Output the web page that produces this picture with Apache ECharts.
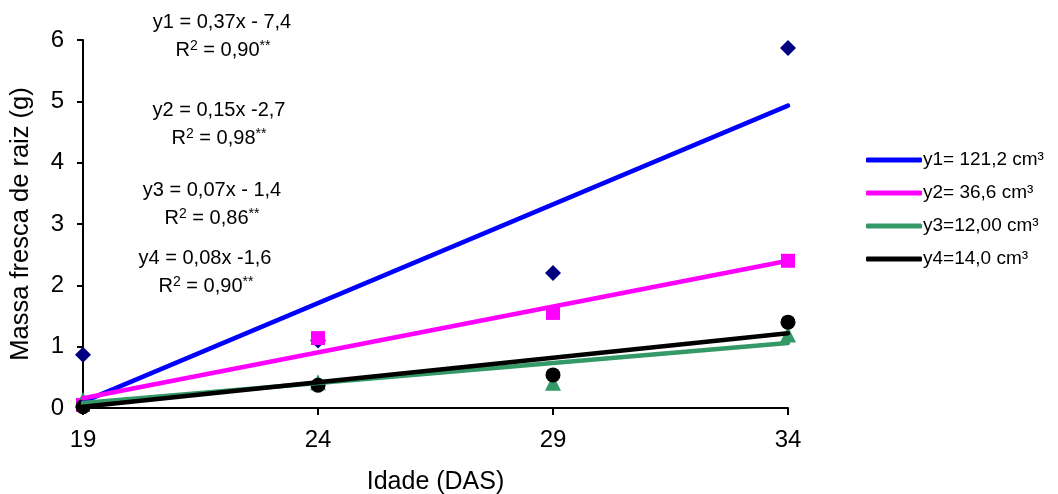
<!DOCTYPE html>
<html>
<head>
<meta charset="utf-8">
<title>Massa fresca de raiz</title>
<script src="https://cdn.jsdelivr.net/npm/echarts@6/dist/echarts.min.js"></script>
<style>
  html, body { margin: 0; padding: 0; background: #fff; }
  #chart { width: 1058px; height: 494px; }
</style>
</head>
<body>
<div id="chart"></div>
<script>
// Sampling ages (days after sowing)
const days = [19, 24, 29, 34];

// Root fresh mass (g) per container volume
const massY1 = [0.87, 1.10, 2.20, 5.87];
const massY2 = [0.05, 1.14, 1.55, 2.40];
const massY3 = [0.13, 0.42, 0.41, 1.20];
const massY4 = [0.02, 0.37, 0.54, 1.40];

// Fitted linear trend, value at first and last age
const trendDays = [19, 34];
const trendY1 = [0.10, 4.93];
const trendY2 = [0.16, 2.40];
const trendY3 = [0.08, 1.06];
const trendY4 = [0.02, 1.22];

const seriesLabels = ['y1= 121,2 cm³', 'y2= 36,6 cm³', 'y3=12,00 cm³', 'y4=14,0 cm³'];
const equations = ['y1 = 0,37x - 7,4', 'y2 = 0,15x -2,7', 'y3 = 0,07x - 1,4', 'y4 = 0,08x -1,6'];
const r2Values = ['0,90', '0,98', '0,86', '0,90'];

const yTicks = [0, 1, 2, 3, 4, 5, 6];

const lineColors = ['#0000FF', '#FF00FF', '#339966', '#000000'];
const markerColors = ['#000080', '#FF00FF', '#339966', '#000000'];
const markerShapes = ['diamond', 'rect', 'triangle', 'circle'];
const markerSizes = [16, 14, 16, 15];

const masses = [massY1, massY2, massY3, massY4];
const trends = [trendY1, trendY2, trendY3, trendY4];

const FONT = '"Liberation Sans", Arial, sans-serif';

const series = [];
masses.forEach(function (vals, i) {
  series.push({
    name: 'obs' + (i + 1),
    type: 'scatter',
    data: days.map(function (d, k) { return [d, vals[k]]; }),
    symbol: markerShapes[i],
    symbolSize: markerSizes[i],
    itemStyle: { color: markerColors[i], opacity: 1 },
    z: 2,
    silent: true
  });
});
trends.forEach(function (vals, i) {
  series.push({
    name: seriesLabels[i],
    type: 'line',
    data: trendDays.map(function (d, k) { return [d, vals[k]]; }),
    showSymbol: false,
    symbol: 'none',
    lineStyle: { color: lineColors[i], width: 4.5, cap: 'round' },
    itemStyle: { color: lineColors[i] },
    z: 3,
    silent: true
  });
});

// Regression equations written in the upper-left corner
const eqTop = [22, 110, 190, 258];
const eqCenter = [222, 219, 212, 205];
const r2Center = [223, 219, 212, 206];
const graphic = [];
equations.forEach(function (eq, i) {
  graphic.push({
    type: 'text',
    x: eqCenter[i],
    y: eqTop[i],
    style: {
      text: eq,
      font: '20px ' + FONT,
      fill: '#000',
      align: 'center',
      verticalAlign: 'middle'
    }
  });
  graphic.push({
    type: 'text',
    x: r2Center[i],
    y: eqTop[i] + 28,
    style: {
      text: 'R{s|2} = ' + r2Values[i] + '{s|**}',
      fontSize: 20,
      fontFamily: FONT,
      fill: '#000',
      align: 'center',
      verticalAlign: 'middle',
      rich: {
        s: { fontSize: 14, fontFamily: FONT, verticalAlign: 'top', padding: [0, 0, 8, 0] }
      }
    }
  });
});

const legendItems = seriesLabels.map(function (name) {
  return { name: name, icon: 'roundRect' };
});

const chart = echarts.init(document.getElementById('chart'), null, { renderer: 'canvas' });
chart.setOption({
  backgroundColor: '#ffffff',
  animation: false,
  textStyle: { fontFamily: FONT },
  grid: { left: 83, right: 270, top: 40, bottom: 86, containLabel: false, outerBoundsMode: 'none' },
  legend: {
    data: legendItems,
    orient: 'vertical',
    left: 861,
    top: 144,
    itemWidth: 56,
    itemHeight: 5,
    itemGap: 11,
    textStyle: { fontSize: 19, color: '#000', fontFamily: FONT, padding: [0, 0, 0, -4], lineHeight: 22 },
    selectedMode: false
  },
  xAxis: {
    type: 'value',
    min: 19,
    max: 34,
    interval: 5,
    name: 'Idade (DAS)',
    nameLocation: 'middle',
    nameGap: 62,
    nameTextStyle: { fontSize: 25, color: '#000', fontFamily: FONT },
    axisLine: { show: true, lineStyle: { color: '#000', width: 2 } },
    axisTick: { show: true, inside: false, length: 7, lineStyle: { color: '#000', width: 2 } },
    axisLabel: { fontSize: 24, color: '#000', margin: 20, fontFamily: FONT },
    splitLine: { show: false }
  },
  yAxis: {
    type: 'value',
    min: yTicks[0],
    max: yTicks[yTicks.length - 1],
    interval: 1,
    name: 'Massa fresca de raiz (g)',
    nameLocation: 'middle',
    nameGap: 49,
    nameTextStyle: { fontSize: 25.5, color: '#000', fontFamily: FONT },
    axisLine: { show: true, lineStyle: { color: '#000', width: 2 } },
    axisTick: { show: true, inside: false, length: 6, lineStyle: { color: '#000', width: 2 } },
    axisLabel: { fontSize: 24, color: '#000', margin: 19, fontFamily: FONT },
    splitLine: { show: false }
  },
  series: series,
  graphic: graphic
});
</script>
</body>
</html>
